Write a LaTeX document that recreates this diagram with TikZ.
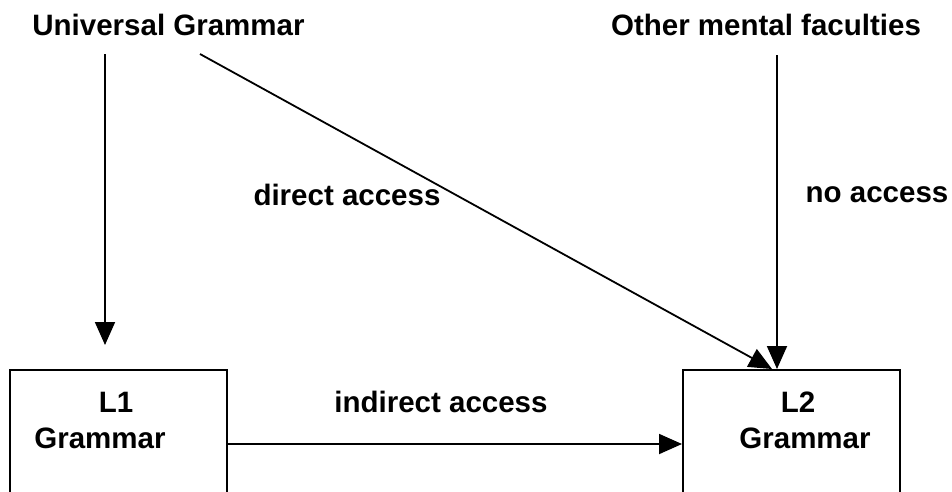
\documentclass[tikz,border=0pt]{standalone}
\usepackage{fontspec}
\setmainfont{Liberation Sans}
\usetikzlibrary{arrows.meta}
\begin{document}
\begin{tikzpicture}[x=1pt,y=-1pt,
  lbl/.style={font=\fontsize{29.5}{33}\selectfont\bfseries, inner sep=0pt, anchor=center},
  gbox/.style={draw, line width=2pt, minimum width=217pt, minimum height=160pt, anchor=north west, inner sep=0pt},
  conn/.style={line width=1.8pt, -{Triangle[length=23pt,width=20pt]}}]
\useasboundingbox (0,0) rectangle (952,491);
\clip (0,0) rectangle (952,491);
\node[lbl] (ug) at (168.5,25) {Universal Grammar};
\node[lbl] (omf) at (766,25) {Other mental faculties};
\node[gbox] (l1) at (9,369) {};
\node[gbox] (l2) at (682,369) {};
\node[lbl] (l1a) at (116,402) {L1};
\node[lbl] (l1b) at (100,438) {Grammar};
\node[lbl] (l2a) at (798,402) {L2};
\node[lbl] (l2b) at (805,438) {Grammar};
\node[lbl] (da) at (347,195) {direct access};
\node[lbl] (na) at (877,195) {no access};
\node[lbl] (ia) at (441,402) {indirect access};
\coordinate (ugA) at (105,54);
\coordinate (ugAend) at (105,345);
\coordinate (ugB) at (200,54);
\coordinate (l2tA) at (772,369);
\coordinate (omfA) at (777,55);
\coordinate (l2tB) at (777,369);
\draw[conn] (ugA) -- (ugAend);
\draw[conn] (ugB) -- (l2tA);
\draw[conn] (omfA) -- (l2tB);
\draw[conn] (l1.east |- 0,444) -- (l2.west |- 0,444);
\end{tikzpicture}
\end{document}
